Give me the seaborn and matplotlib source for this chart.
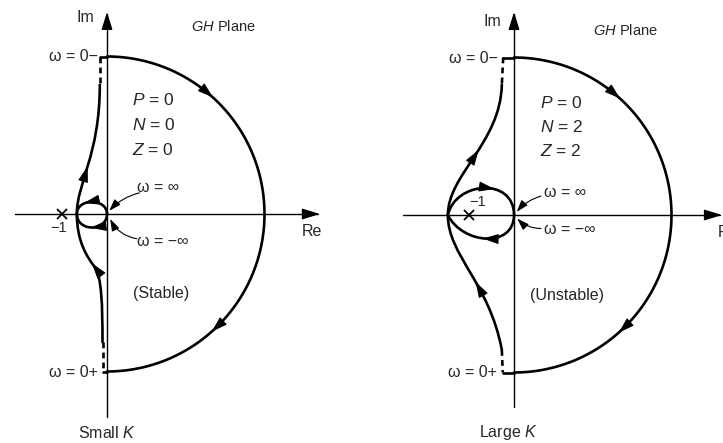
import numpy as np
import matplotlib
matplotlib.use("Agg")
import matplotlib.pyplot as plt
from matplotlib.path import Path
from matplotlib.patches import PathPatch
import seaborn as sns

# ---- GH-plane geometry (units: the critical point sits at -1) ----
R_ARC = 3.5                      # radius of the large semicircle
CRITICAL = -1.0                  # the -1 point

# Small K locus (cubic Bezier control points)
small_upper = [(-0.16, 2.87), (-0.16, 1.3), (-0.67, 0.7), (-0.67, 0.0)]
small_lower_a = [(-0.67, 0.0), (-0.67, -0.6), (-0.45, -0.95), (-0.27, -1.18)]
small_lower_b = [(-0.27, -1.18), (-0.12, -1.4), (-0.10, -2.0), (-0.10, -2.85)]
small_loop_top = [(-0.67, 0.0), (-0.67, 0.36), (0.0, 0.36), (0.0, 0.0)]
small_loop_bot = [(0.0, 0.0), (0.0, -0.40), (-0.67, -0.40), (-0.67, 0.0)]
small_dash_top = [(-0.16, 3.5), (-0.16, 2.87)]
small_dash_bot = [(-0.10, -2.85), (-0.10, -3.5)]
small_stub_top = [(0.0, 3.5), (-0.16, 3.5)]
small_stub_bot = [(0.0, -3.5), (-0.10, -3.5)]
# arrowheads riding on the locus: curve, parameter, travel sense
small_arrow_curve = ["upper", "lower_a", "loop_top", "loop_bot"]
small_arrow_t = [0.55, 0.97, 0.4, 0.45]
small_arrow_sense = [-1, -1, -1, 1]

# Large K locus (cubic Bezier control points)
large_upper = [(-0.27, 2.9), (-0.3, 1.6), (-1.47, 0.9), (-1.47, 0.0)]
large_lower = [(-1.47, 0.0), (-1.47, -0.9), (-0.55, -1.5), (-0.27, -3.0)]
large_loop_top = [(-1.47, 0.0), (-1.3, 0.75), (0.0, 0.85), (0.0, 0.0)]
large_loop_bot = [(0.0, 0.0), (0.0, -0.75), (-1.15, -0.65), (-1.47, 0.0)]
large_dash_top = [(-0.24, 3.5), (-0.27, 2.9)]
large_dash_bot = [(-0.27, -3.0), (-0.25, -3.5)]
large_stub_top = [(0.0, 3.5), (-0.24, 3.5)]
large_stub_bot = [(0.0, -3.5), (-0.25, -3.5)]
large_arrow_curve = ["upper", "lower", "loop_top", "loop_bot"]
large_arrow_t = [0.47, 0.6, 0.58, 0.5]
large_arrow_sense = [-1, -1, 1, 1]

# arrowhead angles on the large semicircle (deg, clockwise travel)
arc_arrow_angles = [49, -47]

# text content
panel_titles = ["Small $K$", "Large $K$"]
pnz_values = [("0", "0", "0"), ("0", "2", "2")]
verdicts = ["(Stable)", "(Unstable)"]

sns.set_style("white")
plt.rcParams["font.family"] = ["Liberation Sans", "DejaVu Sans"]
plt.rcParams["mathtext.fontset"] = "custom"
plt.rcParams["mathtext.rm"] = "Liberation Sans"
plt.rcParams["mathtext.it"] = "Liberation Sans:italic"

W, H = 723, 443
U = 45.0  # pixels per GH unit
fig = plt.figure(figsize=(W / 100, H / 100), dpi=100)
fig.patch.set_facecolor("white")

LW = 1.9
FS = 11.5


def bez_eval(pts, t):
    p = np.asarray(pts, dtype=float)
    s = 1 - t
    pos = s**3 * p[0] + 3 * s**2 * t * p[1] + 3 * s * t**2 * p[2] + t**3 * p[3]
    der = 3 * s**2 * (p[1] - p[0]) + 6 * s * t * (p[2] - p[1]) + 3 * t**2 * (p[3] - p[2])
    return pos, der


def bezier(ax, pts, **kw):
    codes = [Path.MOVETO, Path.CURVE4, Path.CURVE4, Path.CURVE4]
    ax.add_patch(PathPatch(Path(pts, codes), fill=False, **kw))


def head(ax, x, y, ang, scale=13):
    d = 0.08
    a = np.deg2rad(ang)
    ax.annotate("", xy=(x + d * np.cos(a), y + d * np.sin(a)),
                xytext=(x - d * np.cos(a), y - d * np.sin(a)),
                arrowprops=dict(arrowstyle="-|>,head_length=0.75,head_width=0.24",
                                color="k", lw=0.8, shrinkA=0, shrinkB=0,
                                mutation_scale=scale), zorder=5)


def pointer(ax, tip, tail, rad):
    ax.annotate("", xy=tip, xytext=tail,
                arrowprops=dict(arrowstyle="-|>,head_length=0.6,head_width=0.2",
                                color="k", lw=0.8, connectionstyle=f"arc3,rad={rad}",
                                shrinkA=0, shrinkB=0, mutation_scale=12))


def panel(ax, ox, oy, x0, x1, curves, dashes, stubs, re_ext, im_ext,
          arrow_curve, arrow_t, arrow_sense):
    ax.set_position([x0 / W, 0, (x1 - x0) / W, 1])
    ax.set_xlim(-(ox - x0) / U, (x1 - ox) / U)
    ax.set_ylim(-(H - oy) / U, oy / U)
    ax.set_axis_off()

    # real and imaginary axes
    ax.plot([re_ext[0], re_ext[1] - 0.05], [0, 0], color="k", lw=1.0)
    ax.plot([0, 0], [im_ext[0], im_ext[1] - 0.05], color="k", lw=1.0)
    for (px, py, a) in [(re_ext[1], 0, 0), (0, im_ext[1], 90)]:
        ar = np.deg2rad(a)
        ax.annotate("", xy=(px, py), xytext=(px - 0.3 * np.cos(ar), py - 0.3 * np.sin(ar)),
                    arrowprops=dict(arrowstyle="-|>,head_length=0.9,head_width=0.28",
                                    color="k", lw=1.0, shrinkA=0, shrinkB=0,
                                    mutation_scale=12))

    # large semicircle
    th = np.deg2rad(np.linspace(90, -90, 200))
    sns.lineplot(x=R_ARC * np.cos(th), y=R_ARC * np.sin(th), sort=False,
                 color="k", lw=LW, ax=ax, estimator=None)
    for a in arc_arrow_angles:
        ar = np.deg2rad(a)
        head(ax, R_ARC * np.cos(ar), R_ARC * np.sin(ar), a - 90)

    for c in curves.values():
        bezier(ax, c, color="k", lw=LW, capstyle="round")
    for d in dashes:
        ax.plot([d[0][0], d[1][0]], [d[0][1], d[1][1]], color="k", lw=LW,
                ls=(0, (2.2, 1.6)))
    for s in stubs:
        ax.plot([s[0][0], s[1][0]], [s[0][1], s[1][1]], color="k", lw=LW)
    for name, t, sense in zip(arrow_curve, arrow_t, arrow_sense):
        pos, der = bez_eval(curves[name], t)
        # heading in equal-scale data units
        ang = np.degrees(np.arctan2(sense * der[1], sense * der[0]))
        head(ax, pos[0], pos[1], ang)
    ax.plot([CRITICAL], [0], marker="x", color="k", ms=7, mew=1.3)


# ---------------- left panel: small K ----------------
axL = fig.add_axes([0, 0, 0.5, 1])
panel(axL, 107, 214, 0, 360,
      {"upper": small_upper, "lower_a": small_lower_a, "lower_b": small_lower_b,
       "loop_top": small_loop_top, "loop_bot": small_loop_bot},
      [small_dash_top, small_dash_bot], [small_stub_top, small_stub_bot],
      (-2.04, 4.73), (-4.51, 4.49),
      small_arrow_curve, small_arrow_t, small_arrow_sense)

axL.text(-0.49, 4.36, "Im", ha="center", va="center", fontsize=FS)
axL.text(2.58, 4.16, "$GH$ Plane", ha="center", va="center", fontsize=FS - 1)
axL.text(4.33, -0.38, "Re", ha="left", va="center", fontsize=FS)
axL.text(-1.07, -0.32, "\u22121", ha="center", va="center", fontsize=FS - 1)
axL.text(-0.2, 3.49, "\u03c9 = 0\u2212", ha="right", va="center", fontsize=FS)
axL.text(-0.2, -3.53, "\u03c9 = 0+", ha="right", va="center", fontsize=FS)
for i, (lab, val) in enumerate(zip(["P", "N", "Z"], pnz_values[0])):
    axL.text(0.56, 2.53 - 0.55 * i, f"${lab}$ = {val}", ha="left", va="center", fontsize=FS + 1)
axL.text(0.66, 0.58, "\u03c9 = \u221e", ha="left", va="center", fontsize=FS)
axL.text(0.66, -0.62, "\u03c9 = \u2212\u221e", ha="left", va="center", fontsize=FS)
axL.text(0.58, -1.76, verdicts[0], ha="left", va="center", fontsize=FS)
axL.text(0.0, -4.87, panel_titles[0], ha="center", va="center", fontsize=FS)
pointer(axL, (0.05, 0.07), (0.72, 0.47), 0.15)
pointer(axL, (0.07, -0.11), (0.66, -0.55), -0.25)

# ---------------- right panel: large K ----------------
axR = fig.add_axes([0.5, 0, 0.5, 1])
panel(axR, 514, 215, 360, 723,
      {"upper": large_upper, "lower": large_lower,
       "loop_top": large_loop_top, "loop_bot": large_loop_bot},
      [large_dash_top, large_dash_bot], [large_stub_top, large_stub_bot],
      (-2.47, 4.62), (-4.27, 4.51),
      large_arrow_curve, large_arrow_t, large_arrow_sense)

axR.text(-0.47, 4.31, "Im", ha="center", va="center", fontsize=FS)
axR.text(2.47, 4.11, "$GH$ Plane", ha="center", va="center", fontsize=FS - 1)
axR.text(4.53, -0.38, "Re", ha="left", va="center", fontsize=FS)
axR.text(-0.80, 0.28, "\u22121", ha="center", va="center", fontsize=FS - 1)
axR.text(-0.36, 3.47, "\u03c9 = 0\u2212", ha="right", va="center", fontsize=FS)
axR.text(-0.38, -3.51, "\u03c9 = 0+", ha="right", va="center", fontsize=FS)
for i, (lab, val) in enumerate(zip(["P", "N", "Z"], pnz_values[1])):
    axR.text(0.58, 2.49 - 0.53 * i, f"${lab}$ = {val}", ha="left", va="center", fontsize=FS + 1)
axR.text(0.66, 0.51, "\u03c9 = \u221e", ha="left", va="center", fontsize=FS)
axR.text(0.66, -0.33, "\u03c9 = \u2212\u221e", ha="left", va="center", fontsize=FS)
axR.text(0.36, -1.78, verdicts[1], ha="left", va="center", fontsize=FS)
axR.text(-0.13, -4.84, panel_titles[1], ha="center", va="center", fontsize=FS)
pointer(axR, (0.06, 0.07), (0.6, 0.42), 0.15)
pointer(axR, (0.07, -0.08), (0.6, -0.3), -0.2)

fig.savefig("out.png", dpi=100, facecolor="white")
